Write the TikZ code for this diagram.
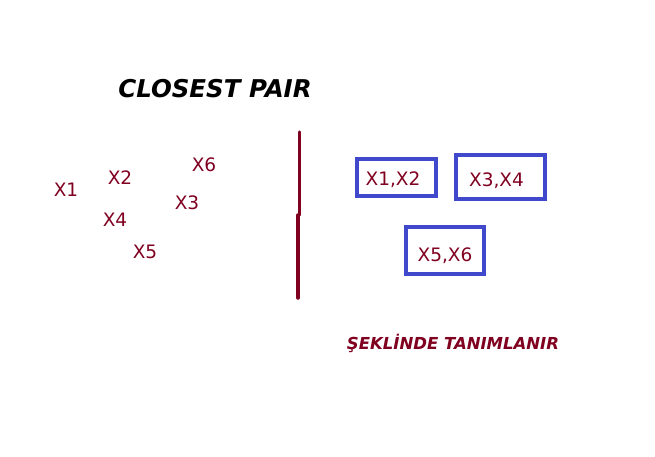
\documentclass[tikz,border=0pt]{standalone}
\usepackage{fontspec}
\setmainfont{DejaVu Sans}
\usepackage{tikz}
\usetikzlibrary{positioning}
\definecolor{bordo}{RGB}{128,0,32}
\definecolor{kutumavi}{RGB}{64,72,204}
\tikzset{
  baslik/.style={font=\fontsize{24.5}{28}\selectfont\bfseries\itshape, text=black},
  nokta/.style={font=\fontsize{18.5}{22}\selectfont, text=bordo, inner sep=0pt},
  ikili/.style={draw=kutumavi, line width=4pt, inner sep=0pt, text=bordo,
    font=\fontsize{18.5}{22}\selectfont, minimum width=#1, text depth=0pt},
  ayrac/.style={draw=bordo, line width=3.5pt, line cap=round},
  sonuc/.style={font=\fontsize{16.5}{20}\selectfont\bfseries\itshape, text=bordo},
}

\begin{document}
\begin{tikzpicture}[x=1pt, y=-1pt]
    \useasboundingbox (0,0) rectangle (655,456);
    \node[baslik] (title) at (215,89) {CLOSEST PAIR};
    % noktalar
    \node[nokta] (x1) at (66,190) {X1};
    \node[nokta] (x2) at (120,178) {X2};
    \node[nokta] (x6) at (204,165) {X6};
    \node[nokta] (x3) at (187,203) {X3};
    \node[nokta] (x4) at (115,220) {X4};
    \node[nokta] (x5) at (145,252) {X5};
    % ayirici cizgi
    \coordinate (ust) at (299.5,132);
    \coordinate (ortaU) at (299.5,215);
    \coordinate (ortaA) at (298,215);
    \coordinate (alt) at (298,298);
    \draw[ayrac] (ust) -- (ortaU);
    \draw[ayrac] (ortaA) -- (alt);
    % ciftler
    \node[ikili=79pt, minimum height=37pt, text height=16.5pt] (p12) at (396.5,177.5) {X1,X2\hspace*{7pt}};
    \node[ikili=89pt, minimum height=44pt, text height=18.5pt] (p34) at (500.5,177) {X3,X4\hspace*{8pt}};
    \node[ikili=78pt, minimum height=47pt, text height=21.5pt] (p56) at (445,250.5) {X5,X6};
    \node[sonuc] (not) at (453,343) {ŞEKLİNDE TANIMLANIR};
  \end{tikzpicture}
\end{document}
